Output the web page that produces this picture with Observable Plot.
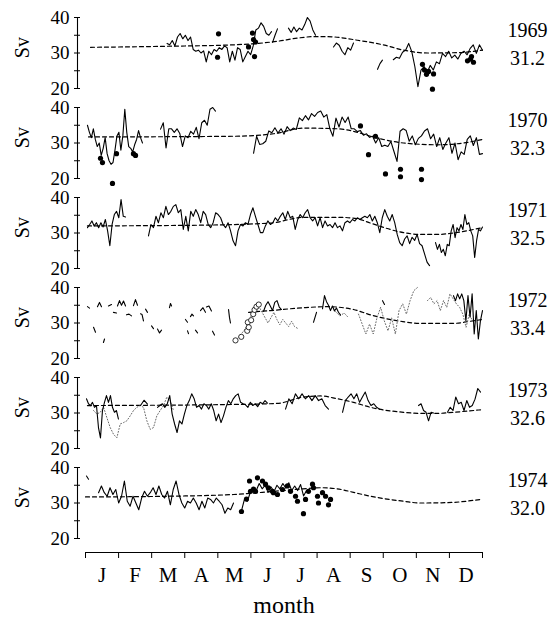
<!DOCTYPE html>
<html><head><meta charset="utf-8">
<script src="https://cdn.jsdelivr.net/npm/d3@7"></script>
<script src="https://cdn.jsdelivr.net/npm/@observablehq/plot@0.6"></script>
<style>
body{margin:0;background:#fff;}
#chart svg, #chart svg text{font-family:"Liberation Serif","Times New Roman",serif !important;}
</style></head>
<body><div id="chart"></div>
<script>
// ---- data (day of year, Sv) ----
const years = [1969, 1970, 1971, 1972, 1973, 1974];
const means = ["31.2", "32.3", "32.5", "33.4", "32.6", "32.0"];
const monthLabels = ["J","F","M","A","M","J","J","A","S","O","N","D"];
const yTicks = [20, 25, 30, 35, 40];

// solid segments: [fromDay, toDay, values evenly spaced]
const solid1969 = [
  [75, 171, [32.7,32.3,33.5,32,34.5,35.5,34,35,33.5,34.5,31,30.5,30.8,30,30.6,27.5,30.5,29.5,31,30.5,31.5,31,32,31.5,27.5,30.5,28,31.5,31,27.5,29,30.5,29.5,32,36.5,37,38.5,37.5,35.5,35,36]],
  [172, 176.5, [33,35,36.8]],
  [186.6, 211.5, [37,35.8,37.3,36,37,36.5,38,40,39,36.5,35]],
  [228, 246.4, [31.7,32.8,32.2,30.5,29.5,31.5,30.8,32.8]],
  [268.5, 273, [25.4,27,28]],
  [283, 365, [28.1,28.8,28.5,30.2,30.8,32.7,30.4,26.2,20.5,25.2,26.2,24.5,26.5,25.2,27.5,27,29.9,29,30.5,28.6,29.4,28.3,29.9,30.5,29.5,31.3,32.3,29.9,32.3,30.8]]
];
const solid1970 = [
  [1.8, 52.4, [35,33,31.5,34,31,29,30,26.5,28.5,31.5,27,25,24,24.5,28,32,33,28,32,39.5,33,29,28.5,27.5,29.5,31,33.5,31.5,30]],
  [69, 119.5, [33.9,35.7,28.6,34,34,33,34,32.7,29,32,31.5,33.3,32.5,34.4,31.2,35.7,36.4,35,39.5,40,39]],
  [154.5, 365, [27.1,31.9,29.6,29.8,30.5,33.4,32.9,34.3,32.8,34,32.5,34.6,33.5,34.2,33.8,37.1,36.3,37.7,36.5,38.3,37.5,38.6,39,37.3,38,34,31.9,37,34.5,37.3,35.8,37.3,34,34,33.2,33.5,32.2,32.6,31.6,31.9,30,31.5,29,29.4,29,30.4,27.6,24.8,33.3,34,33.5,30.5,32,29.5,31.3,32,33.4,34,31.2,32.5,29,31.5,28.2,30,31.5,27.1,30,25.3,27.5,26.8,31,32,29.3,31.5,26.8,27]]
];
const solid1971 = [
  [1.8, 36.8, [31.5,32.4,33.4,32,32.9,31.5,32.9,31.7,33.8,30.6,26.4,32.4,35.2,36.1,34.3,39.4,34.7,34.5]],
  [57.9, 316.3, [29.2,32.4,31.5,34.7,32.9,35.7,34.3,37.5,35.2,36.1,37.5,38,35.7,36.6,31,34.7,30.6,36.1,34.7,36.6,35.2,32.9,36.1,35.2,32.4,31.5,32.9,35.7,35.2,34.3,32.4,31.5,32.9,30.6,27.8,26.4,30.6,32.4,32,32.9,32.4,35.2,37.1,34.7,32.4,30.1,30.1,32,33.4,32.4,32.9,34.3,33.4,34.7,35.7,
    33.8,36.1,34.3,34.7,31,33.8,35.2,34.3,35.7,36.6,34.3,33.4,34.3,32,34.3,31.5,33.4,32,32.4,31.5,32.9,31.5,32,30.6,32.9,33.4,32.9,33.8,33.4,34.3,33.8,34.3,34.7,34.3,35.2,33.4,34.7,32.9,30.1,34.3,36.6,34.7,33.4,35.2,32.9,29.6,27.3,26.4,28.3,29.2,27,28.8,27.9,29.6,27,26.4,24.1,21.8,20.8]],
  [321.8, 365, [27.3,25.4,26.8,24.5,25.4,23.6,26.8,26.4,30.6,32.4,28.7,31.5,30.6,32.4,31,35.2,32.4,32.9,30.6,29.2,23.1,27.9,31,30.6,31.7]]
];
const solid1972 = [
  [1.8, 3.7, [34.6,34.2]], [7.4, 9.2, [28.8,27.4]], [11, 14.7, [34.6,35.8,34.6]],
  [16.5, 17.5, [24.5,25.5]], [21.1, 23.9, [34.8,35.2]], [25.7, 28.5, [33,32.8]],
  [29.4, 36.8, [34.8,36.3,35,36.2,34.8]], [37.7, 42.3, [32.3,32.5,32]], [44.1, 47.8, [34.9,36.6,35]],
  [50.6, 53.3, [32.6,32.4,30.6]], [55.2, 57, [33.9,33]], [60.7, 62.5, [29.2,28.4]],
  [66.2, 69.9, [28.3,27.2,28]], [77.2, 79.1, [34.3,35.5,34.8]], [91.9, 93.8, [31,30.2]],
  [93.8, 94.7, [27.8,27]], [96.5, 99.3, [31.8,32.5,32]], [101.1, 103, [28,27.2]],
  [105.7, 110.3, [33.5,34.3,33]], [111.2, 115.8, [34.5,34.8,33.4]], [116.8, 118.6, [27.7,26.6]],
  [131.5, 133.3, [33.8,31.5,30]], [163.7, 180.2, [33.3,35,36,34.8,33.5,35.8,36.3,34.5,33.8]],
  [209.6, 212.4, [30.2,33]], [217.9, 234.4, [34,37.7,36,35,33.5,34.8,33.4,34.2,33,32.3]],
  [273.1, 274.9, [36.3,35.2]],
  [338.3, 365, [37.7,36.3,38.2,36.8,38.2,36.3,30.6,37.7,31.6,38.2,26.9,33.5,25.5,30.6,33.5]]
];
const solid1973 = [
  [0.9, 30.3, [34,32.6,32.1,33,31.6,32.1,25.9,23,30.7,33,34.9,33,34.9,31.6,30.2,30.7,28.3]],
  [50.6, 57, [32.1,33.6,32.5]],
  [66.2, 167.3, [31.6,32.1,32.6,31.6,32.6,34.9,29.7,26.9,24.5,27.8,26.9,29.7,32.1,33.5,35.4,34,31.6,32.1,31.1,32.6,32.1,31.1,32.6,30.7,27.8,29.7,27.3,29.2,31.6,33.5,32.6,34,34.9,35.4,33,32.6,32.3,31.6,33,32.1,32.6,31.8,33,32.6,33.5,32.8]],
  [183.9, 223.4, [31.1,34,32.6,35.4,34,35.4,34,34.9,33.5,34.9,33.5,34,32.1,31.1]],
  [236.3, 270.3, [30.2,33.5,34.5,35.4,34,35.4,33,34.5,35.9,33.5,32.1,32.6,31.6,31.1]],
  [306.2, 320, [32.1,32.6,30.7,30.2,27.8,30.2,30]],
  [332.8, 363.2, [30.2,31.6,30.7,34.5,32.6,33,30.7,33.5,31.6,32.1,33.9,36.9,35.9]]
];
const solid1974 = [
  [0.9, 2.8, [37.6,36.7]],
  [12, 136.1, [32.9,34.8,32.9,31.9,34.3,32.4,33.8,30,31.9,36.2,30.5,29.1,31.9,30,28.1,31.4,33.3,31.9,32.9,34.3,32.4,34.8,32.4,31.4,33.3,29.5,33.8,36.2,32.4,30,28.6,30.5,30,31.4,30,28.1,30.5,28.6,31.4,31,30,31.4,30.5,29.5,27.1,28.6,28.1,30]],
  [143.4, 203.2, [27.8,31,30.5,33,34,33.5,35.5,34,35,33,34.5,33.2,35,34,35.5,34.2,35.7,33.5,34.8,33.5,35.2,32,33.5]]
];

// grey dotted series
const dotted1972 = [
  [140.7, 194.9, [26,27,28,29.5,31.5,33,34,34.5,33,31.5,30,31.5,33,31,29.5,31,30,29,30.5,29,28.5]],
  [229.9, 241.8, [33.2,32,32.8,31.5]],
  [251, 305.2, [32.5,29.7,26.9,29.7,26.9,31.4,34.4,30.6,27.8,31.4,26.9,33.5,35.4,32.5,36.3,39.1,40]],
  [314.4, 355.8, [36.3,37.2,35.4,36.3,33.5,36.3,34.4,38.2,36.8,35.4,34.4,32.5,28.8,32.5,30.6]]
];
const dotted1973 = [
  [7.4, 80.9, [30.7,29.7,30.2,31.6,28.7,25.9,24,23,26.9,27.3,27.8,29.2,30.7,31.6,32.1,31.6,27.8,25.4,25.9,29.2,30.7,32.1,34.5,33.5,30.7]]
];

// filled dots [day, Sv]
const dots1969 = [[121.4,28.8],[122.3,35.4],[149.9,31.7],[153.5,35.6],[154.5,33.8],[156.3,33.1],[155.4,29],[309.8,26.8],[311.7,25.2],[313.5,24],[315.4,24.8],[320,24.1],[319,19.8],[351.2,27.8],[354,28.3],[356.7,27.4],[354.9,29]];
const dots1970 = [[13.8,25.7],[15.6,24.5],[24.8,18.6],[28.5,27],[44.1,27],[46,26.5],[252.8,34.8],[266.6,31.9],[260.2,26.7],[275.8,21.3],[289.6,22.6],[289.6,20.5],[308.9,22.6],[308.9,19.7]];
const dots1974 = [[143.4,27.6],[148,31.1],[150.8,36.2],[151.7,33.3],[154.5,33.9],[156.3,33.3],[158.1,37.1],[162.7,36.2],[165.5,35.3],[168.2,34.3],[171.9,33.3],[172.8,32.9],[176.5,32.4],[181.1,33.8],[185.7,34.8],[188.5,33.3],[193.1,31.9],[194.9,30.5],[200.4,27],[202.3,31],[205,33.3],[208.7,35.3],[209.6,34.3],[213.3,31.9],[214.2,30],[217.9,32.9],[220.7,31.9],[223.4,29.5],[225.3,31]];
// open circles
const circles1972 = [[137.9,25.1],[143.2,26.1],[148.7,27.8],[149.2,30.2],[150.1,28.8],[152.3,30.8],[154.2,32.5],[155.4,33.7],[157.2,34.6],[159.3,35.2]];

// dashed seasonal fit [day, Sv]
const fit1969 = [[4.6,31.6],[75,31.9],[136,32.3],[176.5,33.3],[195,34.2],[209.6,34.6],[222.5,34.6],[250,33.6],[275,32.2],[292.4,30.8],[314.4,30],[342,30.1],[365,30.8]];
const fit1970 = [[2.8,31.7],[136,31.9],[173,32.6],[200.4,34.2],[231.7,34],[246.4,33.3],[262,31.9],[292.4,30],[323.6,29.5],[347.5,30],[365,31]];
const fit1971 = [[1.8,32],[105.7,32.2],[170,32.8],[200.4,34.4],[234.4,34.4],[250,34],[262,32.8],[292.4,30.1],[308,29.6],[323.6,29.6],[338.3,30],[363,31.4]];
const fit1972 = [[150,33],[170,33.5],[200.4,34.3],[222.5,34.6],[246.4,33.8],[262,32.3],[289.6,30.5],[308,29.9],[338.3,29.9],[354,30.5],[365,31]];
const fit1973 = [[1.8,32.1],[136,32.4],[176.5,32.7],[200.4,34.5],[216.1,34.8],[231.7,34],[246.4,33],[262,31.6],[292.4,30.2],[308,29.9],[323.6,29.9],[338.3,30.2],[363.2,30.9]];
const fit1974 = [[0,31.7],[75,31.9],[136.1,32.4],[170,33.2],[200,34],[216.1,34.3],[235,33.8],[246.4,33],[262,31.9],[292.4,30.5],[308,30],[332.8,30.1],[363.2,31]];

// ---- build tables ----
const segRows = (year, segs, kind) => segs.flatMap((s, k) => s[2].map((v, i, a) => ({
  year, seg: `${year}-${kind}-${k}`, day: s[0] + (s[1] - s[0]) * i / (a.length - 1), v})));
const ptRows = (year, pts) => pts.map(([day, v]) => ({year, day, v}));

const solidRows = [solid1969, solid1970, solid1971, solid1972, solid1973, solid1974]
  .flatMap((s, i) => segRows(years[i], s, "s"));
const dottedRows = [...segRows(1972, dotted1972, "d"), ...segRows(1973, dotted1973, "d")];
const fitRows = [fit1969, fit1970, fit1971, fit1972, fit1973, fit1974].flatMap((f, i) => ptRows(years[i], f));
const dotRows = [...ptRows(1969, dots1969), ...ptRows(1970, dots1970), ...ptRows(1974, dots1974)];
const circleRows = ptRows(1972, circles1972);
const labelRows = years.map((year, i) => ({year, mean: means[i]}));

const monthLen = 365 / 12;
const monthEdges = d3.range(13).map(i => i * monthLen);
const monthMids = d3.range(12).map(i => (i + 0.5) * monthLen);
const serif = "Liberation Serif";

const plot = Plot.plot({
  width: 550, height: 618,
  marginLeft: 85, marginRight: 68, marginTop: 16, marginBottom: 80,
  style: {fontFamily: serif, background: "white", color: "black"},
  x: {domain: [0, 365]},
  y: {domain: [20, 40]},
  fy: {axis: null, domain: years, paddingInner: 0.213, paddingOuter: 0},
  marks: [
    Plot.ruleX([0], {y1: 20, y2: 40, dx: -8, stroke: "black", strokeWidth: 1.1}),
    Plot.axisY({ticks: yTicks, tickSize: 3, dx: -8, tickPadding: 5, tickFormat: d => d % 10 === 0 ? d : "", fontSize: 19, fontFamily: serif, label: null, stroke: "black", color: "black"}),
    Plot.axisY({ticks: yTicks, tickSize: 3, dx: -5, tickFormat: () => "", label: null, stroke: "black"}),
    Plot.text(labelRows, {fy: "year", x: () => 0, y: () => 31.5, text: () => "Sv", rotate: -90, dx: -63, fontSize: 20, fontFamily: serif, fill: "black"}),
    Plot.text(labelRows, {fy: "year", x: () => 365, y: () => 36.3, text: d => String(d.year), dx: 45, fontSize: 20, fontFamily: serif, fill: "black"}),
    Plot.text(labelRows, {fy: "year", x: () => 365, y: () => 28.3, text: "mean", dx: 45, fontSize: 20, fontFamily: serif, fill: "black"}),
    Plot.line(fitRows, {x: "day", y: "v", z: "year", fy: "year", curve: "monotone-x", stroke: "black", strokeWidth: 1.2, strokeDasharray: "4,3"}),
    Plot.line(dottedRows, {x: "day", y: "v", z: "seg", fy: "year", stroke: "#6a6a6a", strokeWidth: 1, strokeDasharray: "1,2"}),
    Plot.line(solidRows, {x: "day", y: "v", z: "seg", fy: "year", stroke: "black", strokeWidth: 1.1}),
    Plot.dot(dotRows, {x: "day", y: "v", fy: "year", r: 2.6, fill: "black"}),
    Plot.dot(circleRows, {x: "day", y: "v", fy: "year", r: 2.6, fill: "white", stroke: "black", strokeWidth: 0.8}),
    Plot.ruleY([20], {fy: () => 1974, dy: 14, stroke: "black", strokeWidth: 1.1}),
    Plot.axisX({ticks: monthEdges, tickSize: 6, dy: 14, tickFormat: () => "", label: null, stroke: "black"}),
    Plot.axisX({ticks: monthMids, tickSize: 0, dy: 14, tickPadding: 15, fontSize: 21, fontFamily: serif, label: null, color: "black",
      tickFormat: d => monthLabels[Math.floor(d / monthLen)]}),
    Plot.text(labelRows.slice(5), {fy: "year", x: () => 182.5, y: () => 20, text: () => "month", dy: 67, fontSize: 24, fontFamily: serif, fill: "black"})
  ]
});
document.getElementById("chart").appendChild(plot);
</script>
</body></html>
